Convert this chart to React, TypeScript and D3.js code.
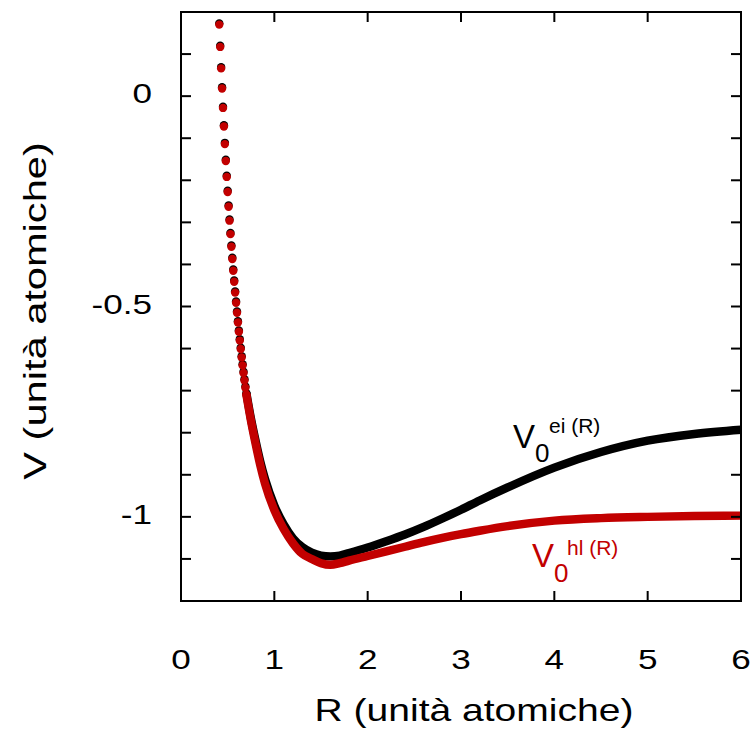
import React, { useEffect, useRef } from "react";
import * as d3 from "d3";

// steep part of the curves: single dots, read one by one
const rDots = [
  0.41, 0.42, 0.43, 0.44, 0.45, 0.46, 0.47, 0.48, 0.49, 0.5, 0.51, 0.52, 0.53,
  0.54, 0.55, 0.56, 0.57, 0.58, 0.59, 0.6, 0.61, 0.62, 0.63, 0.64, 0.65, 0.66,
  0.67, 0.68, 0.69, 0.7,
];
const eiDots = [
  0.173, 0.12, 0.069, 0.021, -0.025, -0.069, -0.111, -0.151, -0.189, -0.225,
  -0.26, -0.293, -0.325, -0.355, -0.384, -0.412, -0.438, -0.464, -0.488,
  -0.512, -0.535, -0.557, -0.578, -0.598, -0.618, -0.637, -0.655, -0.673,
  -0.69, -0.706,
];
const hlDots = [
  0.17, 0.117, 0.066, 0.018, -0.028, -0.072, -0.114, -0.154, -0.192, -0.228,
  -0.263, -0.296, -0.328, -0.358, -0.387, -0.415, -0.441, -0.467, -0.491,
  -0.515, -0.538, -0.56, -0.581, -0.601, -0.621, -0.64, -0.658, -0.676,
  -0.693, -0.709,
];

// rest of the curves, where the dots merge into a band
const rCurve = [
  0.7, 0.75, 0.8, 0.85, 0.9, 1.0, 1.1, 1.2, 1.3, 1.4, 1.5, 1.6, 1.7, 1.8, 2.0,
  2.2, 2.4, 2.6, 2.8, 3.0, 3.2, 3.5, 4.0, 4.5, 5.0, 5.5, 6.0,
];
const eiCurve = [
  -0.705, -0.767, -0.82, -0.869, -0.91, -0.973, -1.018, -1.051, -1.072, -1.085,
  -1.092, -1.094, -1.092, -1.086, -1.073, -1.058, -1.042, -1.024, -1.004,
  -0.983, -0.961, -0.93, -0.883, -0.846, -0.819, -0.803, -0.793,
];
const hlCurve = [
  -0.709, -0.772, -0.827, -0.878, -0.921, -0.984, -1.029, -1.063, -1.088,
  -1.1, -1.11, -1.114, -1.11, -1.104, -1.093, -1.082, -1.071, -1.06, -1.05,
  -1.041, -1.033, -1.022, -1.009, -1.003, -1.0, -0.998, -0.997,
];

const xTicks = [0, 1, 2, 3, 4, 5, 6];
const yTicks = [-1.2, -1.1, -1.0, -0.9, -0.8, -0.7, -0.6, -0.5, -0.4, -0.3, -0.2, -0.1, 0, 0.1, 0.2];
const yLabelValues = [0, -0.5, -1];
const yLabelTexts = ["0", "-0.5", "-1"];

const RED = "#c20000";
const FONT = "'Liberation Sans', Arial, Helvetica, sans-serif";

const App = () => {
  const svgRef = useRef<SVGSVGElement | null>(null);

  useEffect(() => {
    if (!svgRef.current) return;

    const width = 756;
    const height = 738;
    const plot = { left: 181, right: 741, top: 12, bottom: 601 };

    const svg = d3.select(svgRef.current);
    svg.selectAll("*").remove();
    svg.attr("width", width).attr("height", height);

    const x = d3.scaleLinear().domain([0, 6]).range([plot.left, plot.right]);
    const y = d3.scaleLinear().domain([-1.2, 0.2]).range([plot.bottom, plot.top]);

    // curves (black first, red on top)
    const line = d3
      .line<[number, number]>()
      .x((d) => x(d[0]))
      .y((d) => y(d[1]))
      .curve(d3.curveMonotoneX);

    const series = [
      { dots: eiDots, curve: eiCurve, color: "#000" },
      { dots: hlDots, curve: hlCurve, color: RED },
    ];

    series.forEach((s) => {
      const pts = rCurve.map((r, i) => [r, s.curve[i]] as [number, number]);
      svg
        .append("path")
        .datum(pts)
        .attr("fill", "none")
        .attr("stroke", s.color)
        .attr("stroke-width", 8.4)
        .attr("stroke-linejoin", "round")
        .attr("d", line);

      svg
        .append("g")
        .selectAll("circle")
        .data(rDots.map((r, i) => [r, s.dots[i]]))
        .enter()
        .append("circle")
        .attr("cx", (d) => x(d[0]))
        .attr("cy", (d) => y(d[1]))
        .attr("r", 4.2)
        .attr("fill", s.color);
    });

    // frame
    svg
      .append("rect")
      .attr("x", plot.left)
      .attr("y", plot.top)
      .attr("width", plot.right - plot.left)
      .attr("height", plot.bottom - plot.top)
      .attr("fill", "none")
      .attr("stroke", "#000")
      .attr("stroke-width", 2);

    const tickLen = 10;
    const ticks = svg.append("g").attr("stroke", "#000").attr("stroke-width", 2);

    // y ticks, left and right, pointing inside
    yTicks.forEach((v) => {
      ticks.append("line").attr("x1", plot.left).attr("x2", plot.left + tickLen).attr("y1", y(v)).attr("y2", y(v));
      ticks.append("line").attr("x1", plot.right).attr("x2", plot.right - tickLen).attr("y1", y(v)).attr("y2", y(v));
    });

    // x ticks, bottom and top
    xTicks.forEach((v) => {
      ticks.append("line").attr("x1", x(v)).attr("x2", x(v)).attr("y1", plot.bottom).attr("y2", plot.bottom - tickLen);
      ticks.append("line").attr("x1", x(v)).attr("x2", x(v)).attr("y1", plot.top).attr("y2", plot.top + tickLen);
    });

    // tick labels (the original font is wide, stretch a bit)
    const labelSize = 27;
    const stretch = 1.3;

    yLabelValues.forEach((v, i) => {
      svg
        .append("text")
        .attr("transform", `translate(152,${y(v) + 7}) scale(${stretch},1)`)
        .attr("text-anchor", "end")
        .style("font-family", FONT)
        .style("font-size", `${labelSize}px`)
        .text(yLabelTexts[i]);
    });

    xTicks.forEach((v) => {
      svg
        .append("text")
        .attr("transform", `translate(${x(v)},669) scale(${stretch},1)`)
        .attr("text-anchor", "middle")
        .style("font-family", FONT)
        .style("font-size", `${labelSize}px`)
        .text(String(v));
    });

    // axis titles
    svg
      .append("text")
      .attr("transform", `translate(474,721) scale(1.22,1)`)
      .attr("text-anchor", "middle")
      .style("font-family", FONT)
      .style("font-size", "32px")
      .text("R (unità atomiche)");

    svg
      .append("text")
      .attr("transform", `translate(46,311) rotate(-90) scale(1.3,1)`)
      .attr("text-anchor", "middle")
      .style("font-family", FONT)
      .style("font-size", "32px")
      .text("V (unità atomiche)");

    // curve labels
    const label = (
      color: string,
      vx: number,
      vy: number,
      sub: string,
      subX: number,
      subY: number,
      sup: string,
      supX: number,
      supY: number
    ) => {
      const g = svg.append("g").attr("fill", color).style("font-family", FONT);
      g.append("text").attr("x", vx).attr("y", vy).style("font-size", "33px").text("V");
      g.append("text").attr("x", subX).attr("y", subY).style("font-size", "26px").text(sub);
      g.append("text").attr("x", supX).attr("y", supY).style("font-size", "21px").text(sup);
    };

    label("#000", 513, 448, "0", 535, 462, "ei (R)", 549, 433);
    label(RED, 532, 567, "0", 554, 582, "hl (R)", 567, 555);
  }, []);

  return (
    <svg
      ref={svgRef}
      style={{ position: "absolute", left: 0, top: 0, background: "#fff" }}
    ></svg>
  );
};

export default App;
